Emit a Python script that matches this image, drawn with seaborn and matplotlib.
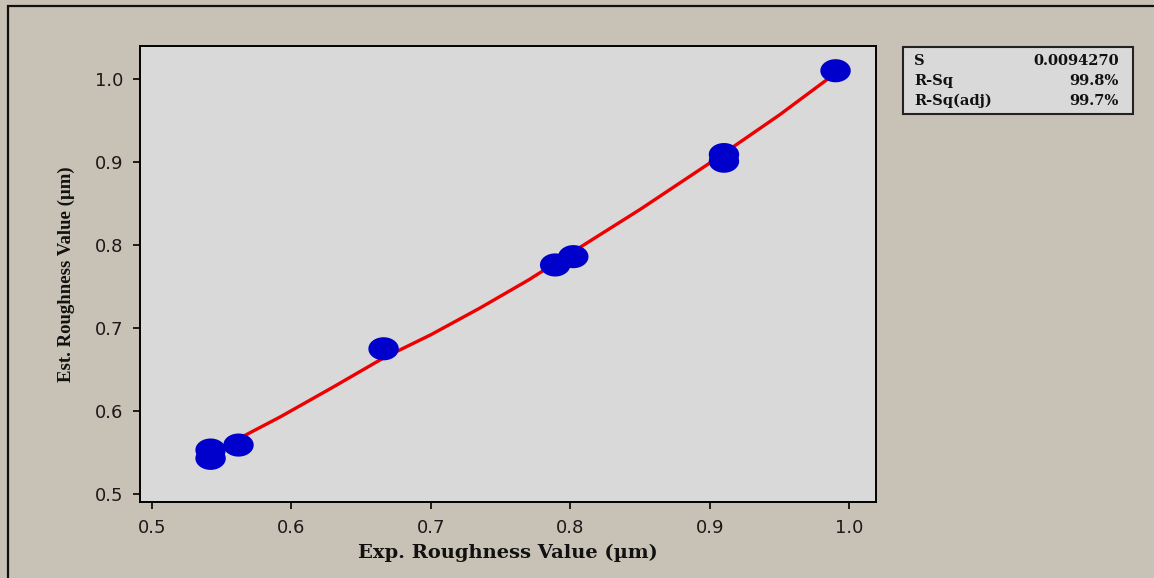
import matplotlib
matplotlib.use("Agg")
import matplotlib.pyplot as plt
import numpy as np
import pandas as pd
import seaborn as sns
from matplotlib.patches import Rectangle
from matplotlib.path import Path

# observed points (exp vs est roughness)
exp_vals = [0.542, 0.542, 0.562, 0.666, 0.789, 0.802, 0.910, 0.910, 0.990]
est_vals = [0.553, 0.543, 0.559, 0.675, 0.776, 0.786, 0.909, 0.901, 1.010]

# fitted line
fit_x = [0.542, 0.567, 0.592, 0.630, 0.666, 0.700, 0.735, 0.770, 0.800, 0.850, 0.900, 0.950, 0.990]
fit_y = [0.549, 0.571, 0.593, 0.629, 0.664, 0.692, 0.724, 0.758, 0.790, 0.843, 0.899, 0.957, 1.007]

ticks = [0.5, 0.6, 0.7, 0.8, 0.9, 1.0]
stats_names = ["S", "R-Sq", "R-Sq(adj)"]
stats_vals = ["0.0094270", "99.8%", "99.7%"]

pts = pd.DataFrame({"exp": exp_vals, "est": est_vals})
fit = pd.DataFrame({"exp": fit_x, "est": fit_y})

sns.set_theme(style="ticks")
bg = "#c8c1b5"
fig = plt.figure(figsize=(11.54, 5.78), dpi=100, facecolor=bg)
ax = fig.add_axes([140 / 1154, 1 - 502 / 578, 736 / 1154, 456 / 578])
ax.set_facecolor("#d9d9d9")

# elliptical marker (source image is stretched sideways)
t = np.linspace(0, 2 * np.pi, 60)
ell = Path(np.column_stack([np.cos(t), 0.76 * np.sin(t)]), closed=True)

sns.lineplot(data=fit, x="exp", y="est", ax=ax, color="#ee0000", linewidth=2.4,
             sort=False, zorder=2)
sns.scatterplot(data=pts, x="exp", y="est", ax=ax, marker=ell, s=480,
                color="#0000cc", edgecolor="none", linewidth=0, zorder=3)

ax.set_xlim(0.4914, 1.019)
ax.set_ylim(0.4904, 1.0398)
ax.set_xticks(ticks)
ax.set_yticks(ticks)
ax.set_xticklabels([f"{v:.1f}" for v in ticks])
ax.set_yticklabels([f"{v:.1f}" for v in ticks])
ax.tick_params(direction="out", length=5, width=1.2, colors="black",
               labelsize=13, labelcolor="#1a1a1a", pad=7)
for sp in ax.spines.values():
    sp.set_color("black")
    sp.set_linewidth(1.4)
    sp.set_visible(True)

ax.set_xlabel("Exp. Roughness Value (µm)", family="DejaVu Serif", weight="bold",
              fontsize=14, color="#111111", labelpad=5)
ax.set_ylabel("Est. Roughness Value (µm)", family="Liberation Serif", weight="bold",
              fontsize=13.5, color="#111111", labelpad=14)

# stats box
fig.patches.append(Rectangle((903 / 1154, 1 - 114 / 578), 230 / 1154, 67 / 578,
                             transform=fig.transFigure, facecolor="#d9d9d9",
                             edgecolor="#222222", linewidth=1.5))
for i, (n, v) in enumerate(zip(stats_names, stats_vals)):
    yy = 1 - (61 + 20 * i) / 578
    fig.text(914 / 1154, yy, n, family="DejaVu Serif", weight="bold", fontsize=10.5,
             va="center", ha="left", color="#111111")
    fig.text(1119 / 1154, yy, v, family="DejaVu Serif", weight="bold", fontsize=10.5,
             va="center", ha="right", color="#111111")

# outer frame (left and top edges visible)
fig.patches.append(Rectangle((8 / 1154, -0.05), 1.2, 1.05 - 6 / 578,
                             transform=fig.transFigure, facecolor="none",
                             edgecolor="#111111", linewidth=1.6))

fig.savefig("out.png", dpi=100, facecolor=bg)
